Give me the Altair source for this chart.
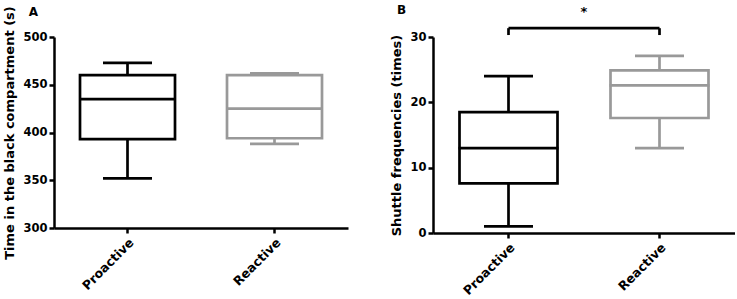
import altair as alt
import pandas as pd

groups = ["Proactive", "Reactive"]
colors = ["#000000", "#999999"]

# Panel A: time in the black compartment (s)
a_low = [352, 388]
a_q1 = [393, 394]
a_median = [435, 425]
a_q3 = [460, 460]
a_high = [473, 462]

# Panel B: shuttle frequencies (times)
b_low = [1, 13]
b_q1 = [7.6, 17.6]
b_median = [13.0, 22.6]
b_q3 = [18.5, 24.9]
b_high = [24.0, 27.1]

# significance bracket in panel B
sig_pair = ["Proactive", "Reactive"]
sig_bar_y = 31.35
sig_tip_y = 30.3
star_y = 33.2
star_label = "*"

# panel letters
panel_letters = ["A", "B"]
letter_y = [522.5, 33.45]

FONT = "DejaVu Sans"


def box_panel(low, q1, med, q3, high, domain, ticks, title, box_w, cap_w):
    df = pd.DataFrame({"group": groups, "low": low, "q1": q1, "med": med,
                       "q3": q3, "high": high})
    xenc = alt.X("group:N", scale=alt.Scale(domain=groups, paddingInner=0, paddingOuter=0),
                 axis=alt.Axis(title=None, labelAngle=-45, labelFont=FONT,
                               labelFontSize=12.5, labelFontWeight="bold",
                               labelColor="#000000", tickSize=5, tickWidth=2.5,
                               tickColor="#000000", domainColor="#000000",
                               domainWidth=2.5, labelPadding=3))
    yscale = alt.Scale(domain=domain, nice=False, zero=False)
    yaxis = alt.Axis(title=title, values=ticks, titleFont=FONT, titleFontSize=13,
                     titleFontWeight="bold", titleColor="#000000", titlePadding=6,
                     labelFont=FONT, labelFontSize=11.5, labelFontWeight="bold",
                     labelColor="#000000", tickSize=5, tickWidth=2.5,
                     tickColor="#000000", domainColor="#000000", domainWidth=2.5,
                     labelPadding=2, grid=False)
    col = alt.Color("group:N", scale=alt.Scale(domain=groups, range=colors), legend=None)
    base = alt.Chart(df)
    w_low = base.mark_rule(strokeWidth=2.7).encode(
        x=xenc, y=alt.Y("low:Q", scale=yscale, axis=yaxis), y2="q1:Q", color=col)
    w_high = base.mark_rule(strokeWidth=2.7).encode(
        x=xenc, y=alt.Y("q3:Q", scale=yscale, axis=yaxis), y2="high:Q", color=col)
    cap_low = base.mark_tick(thickness=2.7, size=cap_w, opacity=1).encode(
        x=xenc, y=alt.Y("low:Q", scale=yscale, axis=yaxis), color=col)
    cap_high = base.mark_tick(thickness=2.7, size=cap_w, opacity=1).encode(
        x=xenc, y=alt.Y("high:Q", scale=yscale, axis=yaxis), color=col)
    box = base.mark_bar(width=box_w, fill="#ffffff", strokeWidth=2.7).encode(
        x=xenc, y=alt.Y("q1:Q", scale=yscale, axis=yaxis), y2="q3:Q",
        stroke=alt.Stroke("group:N", scale=alt.Scale(domain=groups, range=colors),
                          legend=None))
    median = base.mark_tick(thickness=2.7, size=box_w + 2, opacity=1).encode(
        x=xenc, y=alt.Y("med:Q", scale=yscale, axis=yaxis), color=col)
    layers = [w_low, w_high, cap_low, cap_high, box, median]
    return layers, xenc, yscale, yaxis


def letter_layer(letter, yval, xenc, yscale, yaxis, dx):
    ldf = pd.DataFrame({"group": [groups[0]], "y": [yval], "label": [letter]})
    return alt.Chart(ldf).mark_text(dx=dx, font=FONT, fontSize=12, fontWeight="bold",
                                    color="#000000", baseline="alphabetic").encode(
        x=xenc, y=alt.Y("y:Q", scale=yscale, axis=yaxis), text="label:N")


layers_a, xa, ysa, yaa = box_panel(a_low, a_q1, a_median, a_q3, a_high, [300, 500],
                                   [300, 350, 400, 450, 500],
                                   "Time in the black compartment (s)", 95, 49)
label_a = letter_layer(panel_letters[0], letter_y[0], xa, ysa, yaa, -94)
panel_a = alt.layer(*layers_a, label_a).properties(width=294, height=191)

layers_b, xb, ysb, yab = box_panel(b_low, b_q1, b_median, b_q3, b_high, [0, 30],
                                   [0, 10, 20, 30],
                                   "Shuttle frequencies (times)", 98, 49)

sig_df = pd.DataFrame({"group": [sig_pair[0]], "group2": [sig_pair[1]],
                       "y": [sig_bar_y], "tip": [sig_tip_y]})
tips_df = pd.DataFrame({"group": sig_pair, "y": [sig_bar_y] * 2, "tip": [sig_tip_y] * 2})
star_df = pd.DataFrame({"group": [sig_pair[0]], "y": [star_y], "label": [star_label]})

bracket = alt.Chart(sig_df).mark_rule(strokeWidth=2.7, color="#000000").encode(
    x=xb, x2="group2:N", y=alt.Y("y:Q", scale=ysb, axis=yab))
tips = alt.Chart(tips_df).mark_rule(strokeWidth=2.7, color="#000000").encode(
    x=xb, y=alt.Y("y:Q", scale=ysb, axis=yab), y2="tip:Q")
star = alt.Chart(star_df).mark_text(dx=75.5, font=FONT, fontSize=13, fontWeight="bold",
                                    color="#000000", baseline="alphabetic").encode(
    x=xb, y=alt.Y("y:Q", scale=ysb, axis=yab), text="label:N")
label_b = letter_layer(panel_letters[1], letter_y[1], xb, ysb, yab, -107)

panel_b = alt.layer(*layers_b, bracket, tips, star, label_b).properties(width=302, height=196)

chart = alt.hconcat(panel_a, panel_b, spacing=85, bounds="flush").properties(
    padding={"left": 3, "top": 4, "right": 0, "bottom": 0},
    background="#ffffff",
).configure_view(strokeWidth=0).configure_axis(grid=False)

chart.save("out.html", embed_options={"renderer": "svg", "actions": False})
